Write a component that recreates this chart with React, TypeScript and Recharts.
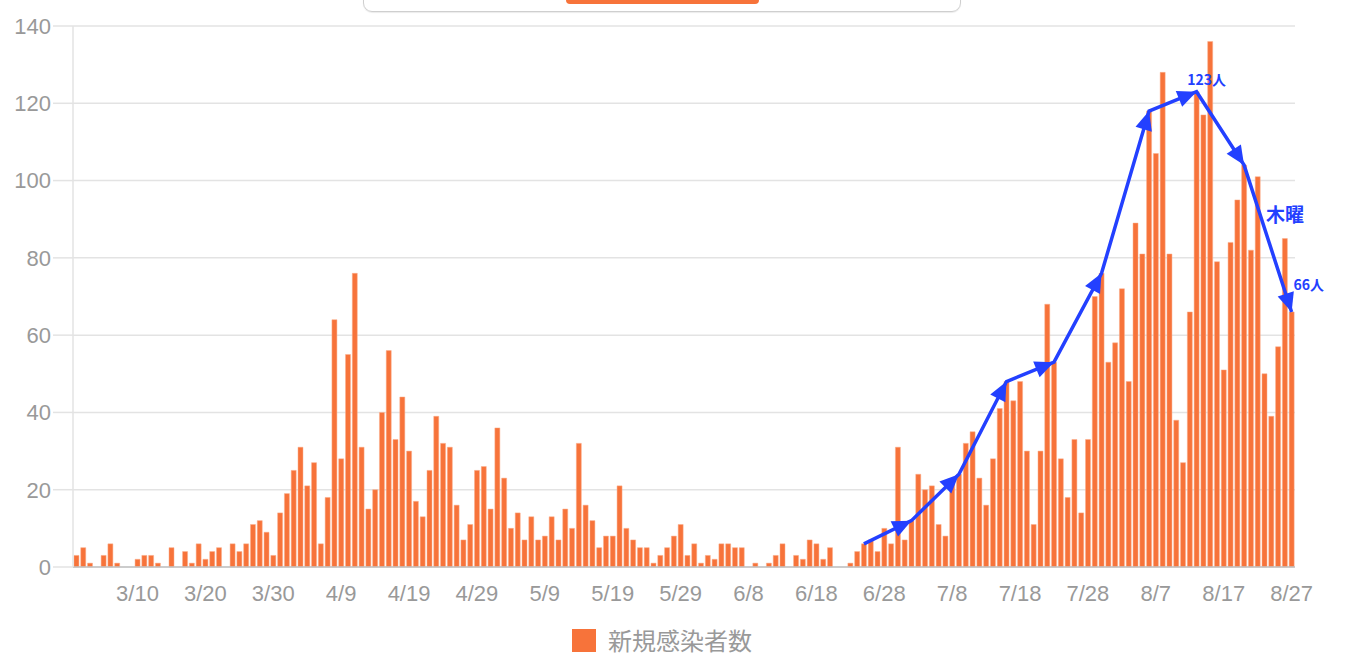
import React from 'react';
import { ComposedChart, Bar, Line, XAxis, YAxis, CartesianGrid, Legend } from 'recharts';

// Daily new cases, 3/1 .. 8/27
const marchCases = [3, 5, 1, 0, 3, 6, 1, 0, 0, 2, 3, 3, 1, 0, 5, 0, 4, 1, 6, 2, 4, 5, 0, 6, 4, 6, 11, 12, 9, 3, 14];
const aprilCases = [19, 25, 31, 21, 27, 6, 18, 64, 28, 55, 76, 31, 15, 20, 40, 56, 33, 44, 30, 17, 13, 25, 39, 32, 31, 16, 7, 11, 25, 26];
const mayCases = [15, 36, 23, 10, 14, 7, 13, 7, 8, 13, 7, 15, 10, 32, 16, 12, 5, 8, 8, 21, 10, 7, 5, 5, 1, 3, 5, 8, 11, 3, 6];
const juneCases = [1, 3, 2, 6, 6, 5, 5, 0, 1, 0, 1, 3, 6, 0, 3, 2, 7, 6, 2, 5, 0, 0, 1, 4, 6, 7, 4, 10, 6, 31];
const julyCases = [7, 12, 24, 20, 21, 11, 8, 22, 24, 32, 35, 23, 16, 28, 41, 48, 43, 48, 30, 11, 30, 68, 53, 28, 18, 33, 14, 33, 70, 76, 53];
const augustCases = [58, 72, 48, 89, 81, 118, 107, 128, 81, 38, 27, 66, 123, 117, 136, 79, 51, 84, 95, 104, 82, 101, 50, 39, 57, 85, 66];

const months: { month: number; cases: number[] }[] = [
  { month: 3, cases: marchCases },
  { month: 4, cases: aprilCases },
  { month: 5, cases: mayCases },
  { month: 6, cases: juneCases },
  { month: 7, cases: julyCases },
  { month: 8, cases: augustCases },
];

const xTicks = ['3/10', '3/20', '3/30', '4/9', '4/19', '4/29', '5/9', '5/19', '5/29', '6/8', '6/18', '6/28', '7/8', '7/18', '7/28', '8/7', '8/17', '8/27'];
const yTicks = [0, 20, 40, 60, 80, 100, 120, 140];

// Weekly (Thursday) trend annotation
const thursdays = ['6/25', '7/2', '7/9', '7/16', '7/23', '7/30', '8/6', '8/13', '8/20', '8/27'];
const peakLabel = { date: '8/13', text: '123人' };
const endLabel = { date: '8/27', text: '66人' };
const weekdayLabel = '木曜';
const seriesName = '新規感染者数';

const ORANGE = '#f7733a';
const BLUE = '#2340ff';
const GRID = '#e3e3e3';
const TEXT = '#999999';

const rows: { date: string; cases: number; trend: number | null }[] = [];
months.forEach(({ month, cases }) => {
  cases.forEach((v, i) => {
    const date = `${month}/${i + 1}`;
    rows.push({ date, cases: v, trend: thursdays.includes(date) ? v : null });
  });
});

const ArrowDot = (props: any) => {
  const { cx, cy, index, points, payload } = props;
  const key = `arrow-${index}`;
  if (cx == null || cy == null || !Number.isFinite(cx) || !Number.isFinite(cy) || !payload || payload.trend == null) {
    return <g key={key} />;
  }
  let prev: any = null;
  if (Array.isArray(points)) {
    for (let i = index - 1; i >= 0; i--) {
      const p = points[i];
      if (p && p.y != null && Number.isFinite(p.y) && p.payload && p.payload.trend != null) {
        prev = p;
        break;
      }
    }
  }
  const items: React.ReactNode[] = [];
  if (prev) {
    const dx = cx - prev.x;
    const dy = cy - prev.y;
    const len = Math.hypot(dx, dy) || 1;
    const ux = dx / len;
    const uy = dy / len;
    const L = 19;
    const W = 8.5;
    const bx = cx - ux * L;
    const by = cy - uy * L;
    const pts = `${cx},${cy} ${bx - uy * W},${by + ux * W} ${bx + uy * W},${by - ux * W}`;
    items.push(<polygon key="a" points={pts} fill={BLUE} />);
  }
  const fontFamily = '"Noto Sans CJK JP", "Noto Sans", sans-serif';
  if (payload.date === peakLabel.date) {
    items.push(
      <text key="t1" x={cx + 10} y={cy - 7} textAnchor="middle" fontSize={14} fontWeight={700} fill={BLUE} fontFamily={fontFamily}>
        {peakLabel.text}
      </text>
    );
  }
  if (payload.date === endLabel.date) {
    items.push(
      <text key="t2" x={cx + 2} y={cy - 22} textAnchor="start" fontSize={14} fontWeight={700} fill={BLUE} fontFamily={fontFamily}>
        {endLabel.text}
      </text>
    );
    if (prev) {
      items.push(
        <text key="t3" x={prev.x + 22} y={prev.y + 48} textAnchor="start" dominantBaseline="central" fontSize={19} fontWeight={700} fill={BLUE} fontFamily={fontFamily}>
          {weekdayLabel}
        </text>
      );
    }
  }
  return <g key={key}>{items}</g>;
};

const LegendContent = () => (
  <div style={{ display: 'flex', justifyContent: 'center', alignItems: 'center', height: 40 }}>
    <div style={{ width: 24, height: 23, background: ORANGE, marginRight: 12 }} />
    <span style={{ fontSize: 24, color: TEXT, fontFamily: '"Noto Sans CJK JP", sans-serif', lineHeight: '40px' }}>{seriesName}</span>
  </div>
);

const axisFont = { fill: TEXT, fontSize: 22, fontFamily: '"Liberation Sans", Arial, sans-serif' };

export default function App() {
  return (
    <div style={{ position: 'absolute', left: 0, top: 0, width: 1354, height: 668, overflow: 'hidden', background: '#fff' }}>
      <div
        style={{
          position: 'absolute',
          left: 363,
          top: -22,
          width: 596,
          height: 32,
          border: '1.5px solid #cfcfcf',
          borderRadius: 9,
          boxShadow: '0 1px 1px rgba(0,0,0,0.08)',
        }}
      />
      <div style={{ position: 'absolute', left: 566, top: -12, width: 193, height: 16, background: ORANGE, borderRadius: 4 }} />
      <ComposedChart
        width={1354}
        height={668}
        data={rows}
        margin={{ top: 26, right: 59, bottom: 8, left: 0 }}
        barCategoryGap="14%"
      >
        <CartesianGrid vertical={false} stroke={GRID} strokeWidth={1.5} />
        <XAxis
          dataKey="date"
          ticks={xTicks}
          interval={0}
          tickLine={false}
          axisLine={{ stroke: '#c2c2c2', strokeWidth: 1.5 }}
          tick={axisFont}
          tickSize={6}
          tickMargin={12}
          height={53}
        />
        <YAxis
          domain={[0, 140]}
          ticks={yTicks}
          interval={0}
          width={73}
          tickSize={20}
          tickMargin={2}
          tickLine={{ stroke: GRID, strokeWidth: 1.5 }}
          axisLine={{ stroke: GRID, strokeWidth: 1.5 }}
          tick={axisFont}
        />
        <Legend verticalAlign="bottom" height={40} content={LegendContent} wrapperStyle={{ left: 0, width: 1324 }} />
        <Bar dataKey="cases" name={seriesName} fill={ORANGE} stroke="#fbae8c" strokeWidth={0.5} isAnimationActive={false} />
        <Line
          dataKey="trend"
          type="linear"
          connectNulls
          stroke={BLUE}
          strokeWidth={3.5}
          dot={ArrowDot}
          activeDot={false}
          legendType="none"
          isAnimationActive={false}
        />
      </ComposedChart>
    </div>
  );
}
